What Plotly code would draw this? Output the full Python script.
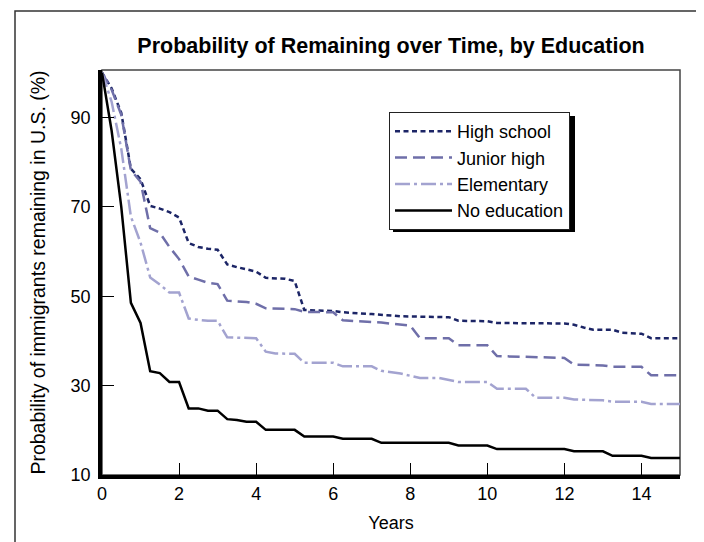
import plotly.graph_objects as go

# ---- data (years, % remaining) ----
years_hs = [0, 0.25, 0.5, 0.75, 1.0, 1.25, 1.5, 1.75, 2.0, 2.25, 2.5, 2.75, 3.0, 3.25, 3.5, 3.75, 4.0,
            4.25, 4.75, 5.0, 5.25, 6.0, 6.25, 7.0, 7.25, 7.75, 9.0, 9.25, 10.0, 10.25, 12.0, 12.25,
            12.5, 12.75, 13.25, 13.5, 14.0, 14.25, 15.0]
high_school = [100, 96.5, 91, 78.5, 76.2, 70.2, 69.6, 68.8, 67.6, 61.9, 61.0, 60.6, 60.4, 57.1, 56.5, 56.0, 55.5,
               54.1, 53.9, 53.4, 46.9, 46.7, 46.4, 46.0, 45.8, 45.5, 45.3, 44.5, 44.4, 44.0, 43.9, 43.6,
               43.0, 42.5, 42.5, 41.8, 41.6, 40.6, 40.6]

years_jh = [0, 0.25, 0.5, 0.75, 1.0, 1.25, 1.5, 1.75, 2.0, 2.25, 2.5, 2.75, 3.0, 3.25, 3.75, 4.0, 4.25,
            5.0, 5.25, 6.0, 6.25, 7.25, 8.0, 8.25, 9.0, 9.25, 10.0, 10.25, 12.0, 12.25, 13.0, 13.25,
            14.0, 14.25, 15.0]
junior_high = [100, 96.2, 90.6, 78.2, 75.6, 65.2, 64.2, 61.0, 58.3, 54.4, 53.7, 53.0, 52.7, 49.0, 48.7, 48.3, 47.3,
               47.1, 46.5, 46.4, 44.6, 44.1, 43.4, 40.6, 40.6, 39.0, 39.0, 36.6, 36.2, 34.7, 34.5, 34.2,
               34.2, 32.3, 32.3]

years_el = [0, 0.25, 0.5, 0.75, 1.0, 1.25, 1.5, 1.75, 2.0, 2.25, 2.5, 2.75, 3.0, 3.25, 4.0, 4.25, 4.5,
            5.0, 5.25, 6.0, 6.25, 7.0, 7.25, 7.75, 8.25, 8.75, 9.25, 10.0, 10.25, 11.0, 11.25, 12.0,
            12.25, 13.0, 13.25, 14.0, 14.25, 15.0]
elementary = [100, 93.5, 83, 67.8, 62.0, 54.2, 52.6, 50.8, 50.8, 45.0, 44.7, 44.5, 44.5, 40.8, 40.6, 37.6, 37.2,
              37.1, 35.1, 35.1, 34.3, 34.3, 33.3, 32.7, 31.7, 31.7, 30.8, 30.8, 29.3, 29.3, 27.3, 27.3,
              26.9, 26.7, 26.4, 26.4, 25.9, 25.9]

years_ne = [0, 0.25, 0.5, 0.75, 1.0, 1.25, 1.5, 1.75, 2.0, 2.25, 2.5, 2.75, 3.0, 3.25, 3.5, 3.75, 4.0,
            4.25, 5.0, 5.25, 6.0, 6.25, 7.0, 7.25, 9.0, 9.25, 10.0, 10.25, 12.0, 12.25, 13.0, 13.25,
            14.0, 14.25, 15.0]
no_education = [100, 87, 70, 48.5, 44.0, 33.2, 32.8, 30.8, 30.8, 24.9, 24.9, 24.4, 24.4, 22.5, 22.3, 21.9, 21.9,
                20.1, 20.1, 18.6, 18.6, 18.1, 18.1, 17.2, 17.2, 16.6, 16.6, 15.8, 15.8, 15.3, 15.3, 14.3,
                14.3, 13.8, 13.8]

series = [
    ("High school", years_hs, high_school, "#1c2566", "5px,3.5px"),
    ("Junior high", years_jh, junior_high, "#6f6fa9", "12px,6px"),
    ("Elementary", years_el, elementary, "#a3a3d0", "15px,4px,3px,4px"),
    ("No education", years_ne, no_education, "#000000", "solid"),
]

x_ticks = [0, 2, 4, 6, 8, 10, 12, 14]
y_ticks = [10, 30, 50, 70, 90]

FONT = "Liberation Sans, Arial, sans-serif"

fig = go.Figure()
for name, xs, ys, color, dash in series:
    fig.add_trace(go.Scatter(
        x=xs, y=ys, name=name, mode="lines",
        line=dict(color=color, width=2.5, dash=dash),
    ))

# page body margin offset (8px) is compensated so the picture lands on the reference pixels
OFF = 8
W, H = 704 - OFF, 542 - OFF
ml, mt = 102 - OFF, 70 - OFF
mr = W - (680 - OFF)
mb = H - (475 - OFF)
pw, ph = W - ml - mr, H - mt - mb


def px_x(p):
    """reference-screen x pixel -> paper coordinate"""
    return (p - OFF - ml) / pw


def px_y(p):
    """reference-screen y pixel -> paper coordinate"""
    return (H - mb - (p - OFF)) / ph


shapes = [
    # outer frame
    dict(type="rect", xref="paper", yref="paper",
         x0=px_x(15), x1=px_x(702), y0=px_y(580), y1=px_y(11),
         line=dict(color="#333333", width=1.5), layer="below"),
    # thin plot frame (top/right)
    dict(type="rect", xref="paper", yref="paper", x0=0, x1=1, y0=0, y1=1,
         line=dict(color="#444444", width=1.5), layer="below"),
    # legend shadow
    dict(type="rect", xref="paper", yref="paper",
         x0=px_x(393), x1=px_x(575), y0=px_y(232), y1=px_y(116),
         line=dict(width=0), fillcolor="#000000", layer="above"),
]

fig.update_layout(
    width=W, height=H,
    margin=dict(l=ml, r=mr, t=mt, b=mb),
    paper_bgcolor="white", plot_bgcolor="white",
    font=dict(family=FONT, size=18, color="black"),
    title=dict(text="<b>Probability of Remaining over Time, by Education</b>",
               x=0.5, xref="paper", xanchor="center", y=1 - (45 - OFF) / H, yanchor="middle",
               font=dict(family=FONT, size=21.5, color="black")),
    showlegend=True,
    legend=dict(x=px_x(389), y=px_y(112), xanchor="left", yanchor="top",
                bgcolor="white", bordercolor="#222222", borderwidth=1,
                font=dict(family=FONT, size=18, color="black"),
                traceorder="normal", itemwidth=57),
    shapes=shapes,
)

fig.update_xaxes(
    range=[0, 15], tickvals=x_ticks, ticks="inside", ticklen=12, tickwidth=1, tickcolor="black",
    showline=True, linecolor="black", linewidth=3.5, showgrid=False, zeroline=False,
    title=dict(text="Years", font=dict(family=FONT, size=18), standoff=14),
    tickfont=dict(family=FONT, size=18),
)
fig.update_yaxes(
    range=[10, 100.6], tickvals=y_ticks, ticks="inside", ticklen=12, tickwidth=1, tickcolor="black",
    showline=True, linecolor="black", linewidth=3.5, showgrid=False, zeroline=False,
    title=dict(text="Probability of immigrants remaining in U.S. (%)", font=dict(family=FONT, size=19.5), standoff=21),
    tickfont=dict(family=FONT, size=18), ticklabelstandoff=4,
)

fig.write_html("out.html")
